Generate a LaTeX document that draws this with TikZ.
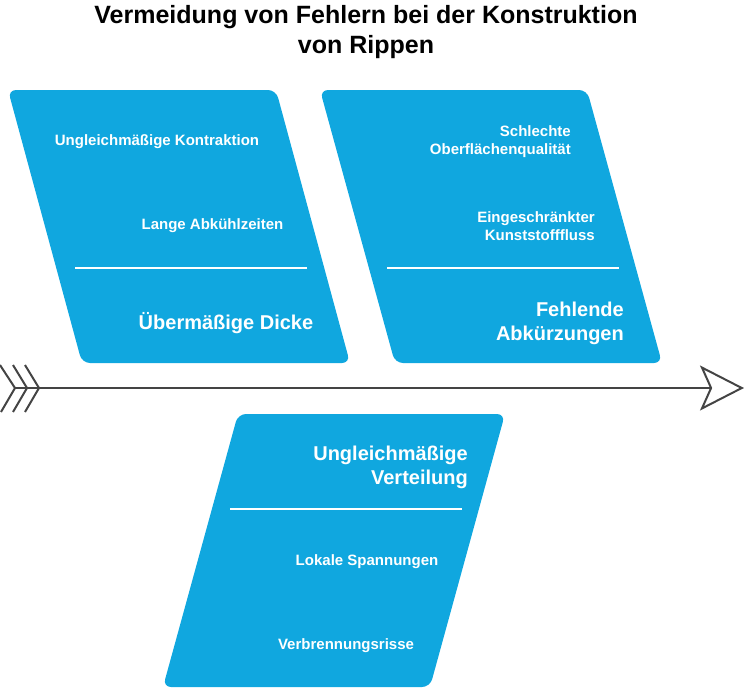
\documentclass[tikz,border=0pt]{standalone}
\usepackage{fontspec}
\setmainfont{Liberation Sans}
\usepackage{xcolor}
\usetikzlibrary{arrows.meta}
\definecolor{boneblue}{RGB}{16,167,223}
\definecolor{spinegray}{RGB}{68,68,68}
\tikzstyle{bone} = [fill=boneblue, draw=none, rounded corners=8pt]
\tikzstyle{split} = [draw=white, line width=1.6pt]
\tikzstyle{cause} = [text=white, font=\bfseries\fontsize{15}{18}\selectfont, inner sep=0pt]
\tikzstyle{effect} = [text=white, font=\bfseries\fontsize{20}{24}\selectfont, inner sep=0pt]
\tikzstyle{spine} = [draw=spinegray, line width=2pt]
\tikzstyle{arrow} = [spine, -{Stealth[open, length=44pt, width=45pt, inset=10pt]}]

\begin{document}
\begin{tikzpicture}[x=1pt, y=-1pt]
\useasboundingbox (0,0) rectangle (744,691);

\node (title) [font=\bfseries\fontsize{25}{30}\selectfont, align=center, inner sep=0pt] at (366,32) {Vermeidung von Fehlern bei der Konstruktion\\von Rippen};

% bones
\path [bone] (8,90) -- (276,90) -- (350,363) -- (82,363) -- cycle;
\path [bone] (320,90) -- (587,90) -- (662,363) -- (395,363) -- cycle;
\path [bone] (238,414) -- (505,414) -- (430,687) -- (163,687) -- cycle;

\draw [split] (75,268) -- (307,268);
\draw [split] (387,268) -- (619,268);
\draw [split] (230,509) -- (462,509);

\node (dicke) [effect] at (226,323) {Übermäßige Dicke};
\node (kontraktion) [cause] at (157,142) {Ungleichmäßige Kontraktion};
\node (abkuehl) [cause] at (212.5,226) {Lange Abkühlzeiten};

\node (abkuerz) [effect, align=right, anchor=east] at (624,323) {Fehlende\\Abkürzungen};
\node (oberfl) [cause, align=right, anchor=east] at (571,142) {Schlechte\\Oberflächenqualität};
\node (fluss) [cause, align=right, anchor=east] at (595,226) {Eingeschränkter\\Kunststofffluss};

\node (verteil) [effect, align=right, anchor=east] at (468,467) {Ungleichmäßige\\Verteilung};
\node (spann) [cause] at (367,562) {Lokale Spannungen};
\node (risse) [cause] at (346,646) {Verbrennungsrisse};

% spine
\coordinate (tail) at (15,388);
\coordinate (head) at (744,388);
\draw [arrow] (tail) -- (head);
\draw [spine] (0,365) -- (15,388) -- (1,412);
\draw [spine] (13,365) -- (27,388) -- (13,412);
\draw [spine] (25,365) -- (39,388) -- (25,412);
\end{tikzpicture}
\end{document}
